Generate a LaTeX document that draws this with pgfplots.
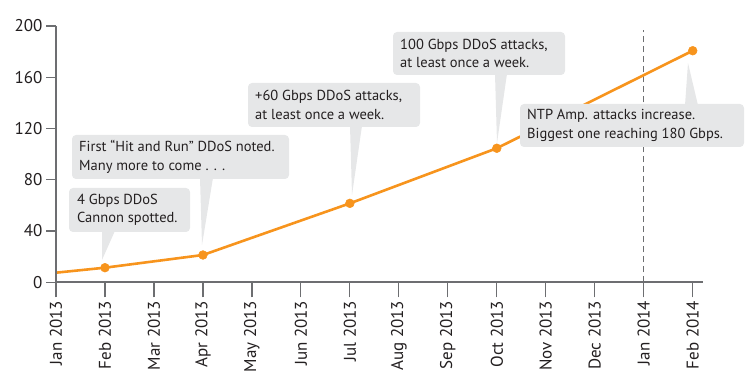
\documentclass[border=0pt]{standalone}
\usepackage{fontspec}
\setmainfont{PT Sans}
\usepackage{pgfplots}
\pgfplotsset{compat=1.18}
\definecolor{orng}{HTML}{F7941D}
\definecolor{axgray}{HTML}{6D6E71}
\definecolor{boxgray}{HTML}{E6E7E8}
\definecolor{txt}{HTML}{231F20}
\begin{document}
\begin{tikzpicture}
% main axis: x axis and data
\begin{axis}[
  at={(0,0)}, anchor=south west,
  scale only axis, width=647pt, height=256.3pt,
  xmin=0, xmax=13.21, ymin=0, ymax=200,
  axis x line*=bottom, axis y line=none,
  axis line style={axgray, line width=1.6pt},
  xtick={0,...,13},
  xticklabels={Jan 2013,Feb 2013,Mar 2013,Apr 2013,May 2013,Jun 2013,Jul 2013,Aug 2013,Sep 2013,Oct 2013,Nov 2013,Dec 2013,Jan 2014,Feb 2014},
  xticklabel style={rotate=90, anchor=east, font=\fontsize{17}{18}\selectfont, text=txt},
  tick align=outside, major tick length=15pt,
  xtick style={axgray, line width=1.2pt},
  clip=false,
]
\addplot[axgray, line width=0.9pt, dash pattern=on 6pt off 4pt, forget plot] coordinates {(12,0) (12,196.9)};
\addplot[orng, line width=2.6pt, line join=round, mark=*, mark size=4.4pt,
  mark options={solid, fill=orng, draw=orng, line width=0.5pt}, mark indices={2,3,4,5,6}]
  coordinates {(0,7.5) (1,11.4) (3,21.3) (6,61.6) (9,104.6) (13,180.7)};
\end{axis}
% y axis
\begin{axis}[
  at={(0,0)}, anchor=south west,
  scale only axis, width=647pt, height=256.3pt,
  xmin=0, xmax=13.21, ymin=0, ymax=200,
  axis y line*=left, axis x line=none,
  axis line style={axgray, line width=1.6pt},
  ytick={0,40,...,200},
  yticklabel style={font=\fontsize{17}{18}\selectfont, text=txt},
  /pgf/number format/assume math mode=true,
  tick align=outside, major tick length=10pt,
  ytick style={axgray, line width=1.2pt},
]
\end{axis}
% callouts
\begin{scope}[x=1pt, y=1pt]
\tikzset{cbox/.style={fill=boxgray, rounded corners=4pt}, ctext/.style={anchor=west, align=left, inner sep=0pt, text=txt, font=\fontsize{14.5}{18.3}\selectfont}}
% 1
\fill[boxgray] (46,51.5) -- (59,51.5) -- (46,22.3) -- cycle;
\fill[cbox] (13,50.3) rectangle (134,94.3);
\node[ctext] at (21,72.3) {4 Gbps DDoS\\Cannon spotted.};
% 2
\fill[boxgray] (144,104.5) -- (157,104.5) -- (146,37.3) -- cycle;
\fill[cbox] (16,103.3) rectangle (233,147.3);
\node[ctext] at (23,125.3) {First “Hit and Run” DDoS noted.\\Many more to come . . .};
% 3
\fill[boxgray] (294,156.5) -- (306,156.5) -- (296,87.3) -- cycle;
\fill[cbox] (192,155.3) rectangle (364,199.3);
\node[ctext] at (199,177.3) {+60 Gbps DDoS attacks,\\at least once a week.};
% 4
\fill[boxgray] (439,208.5) -- (451,208.5) -- (441,139.3) -- cycle;
\fill[cbox] (337,207.3) rectangle (509,250.3);
\node[ctext] at (344,228.8) {100 Gbps DDoS attacks,\\at least once a week.};
% 5
\fill[boxgray] (629,177) -- (642,177) -- (632,219.3) -- cycle;
\fill[cbox] (464,135.3) rectangle (688,178.3);
\node[ctext] at (471,156.8) {NTP Amp. attacks increase.\\Biggest one reaching 180 Gbps.};
\end{scope}
\pgfresetboundingbox
\useasboundingbox (-56pt,-104.7pt) rectangle (689pt,282.3pt);
\end{tikzpicture}
\end{document}
